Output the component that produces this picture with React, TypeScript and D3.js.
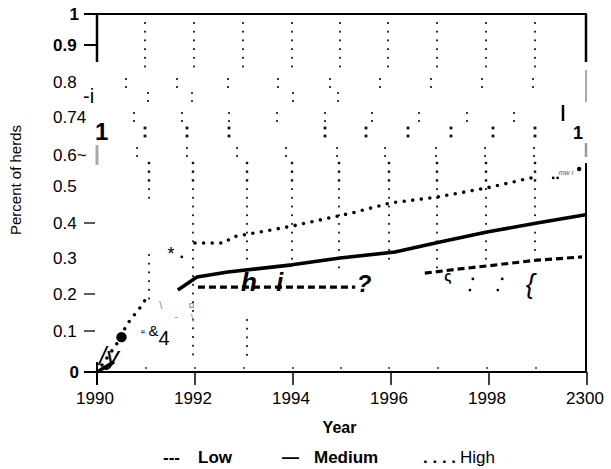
import React from 'react';
import * as d3 from 'd3';

const W = 611;
const H = 469;
const FONT = 'Liberation Sans, Arial, Helvetica, sans-serif';

// ---------- data ----------
const xTickValues = [1990, 1992, 1994, 1996, 1998, 2000];
const xTickLabels = ['1990', '1992', '1994', '1996', '1998', '2300'];

const yTickValues = [0, 0.1, 0.2, 0.3, 0.4, 0.5, 0.6, 0.7, 0.8, 0.9, 1];
const yTickLabels = ['0', '0.1', '0.2', '0.3', '0.4', '0.5', '0.6~', '0.74', '0.8', '0.9', '1'];
const yBoldTicks = [0, 0.9, 1];
const yDashTicks = [0, 0.1, 0.2, 0.4, 0.9, 1];

const legendLabels = ['Low', 'Medium', 'High'];

const lowYears = [1992.06, 1995.27, NaN, 1996.69, 1997.3, 1997.96, 1998.98, 1999.9];
const lowValues = [0.219, 0.219, NaN, 0.258, 0.268, 0.278, 0.294, 0.303];

const mediumYears = [1990, 1990.35, NaN, 1991.65, 1992.04, 1992.67, 1993.98, 1994.96, 1996.08, 1997.0, 1997.96, 1998.98, 2000];
const mediumValues = [0, 0.025, NaN, 0.211, 0.247, 0.261, 0.281, 0.3, 0.317, 0.346, 0.374, 0.4, 0.423];

const highYears = [1990, 1990.5, 1990.59, 1990.71, 1990.92, 1991.02, NaN, 1992.0, 1992.6, 1992.76, 1993.94, 1995.2, 1995.98, 1996.94, 1997.96, 1998.94];
const highValues = [0, 0.085, 0.114, 0.135, 0.17, 0.192, NaN, 0.343, 0.343, 0.36, 0.39, 0.427, 0.454, 0.47, 0.495, 0.529];

// stray scanned marks inside the plot (year, value, glyph)
const noteYears = [1990.245, 1991.51, 1993.1, 1993.73, 1995.45, 1998.84, 1997.16, 1999.57];
const noteValues = [0.039, 0.311, 0.233, 0.233, 0.228, 0.228, 0.25, 0.545];
const noteTexts = ['/y', '*', 'h', 'i', '?', '{', '\u03c2', 'mw i'];

const ampYear = 1990.9;
const ampValue = 0.095;

const dotYears = [1990.5, 1991.73, 1997.67, 1997.61, 1998.27, 1998.18, 1999.84, 1999.31, 1999.4];
const dotValues = [0.085, 0.303, 0.242, 0.211, 0.242, 0.211, 0.555, 0.526, 0.526];

const grayYears = [1991.3, 1991.62, 1991.95, 1991.93];
const grayValues = [0.17, 0.14, 0.135, 0.17];
const grayTexts = ['\\', '-', '\\', '\u00a4'];

// dotted year grid lines
const gridYears = [1991, 1992, 1993, 1994, 1995, 1996, 1997, 1998, 1999];

export default function App() {
  const x = d3.scaleLinear().domain([1990, 2000]).range([97, 587]);
  const y = d3.scaleLinear().domain(yTickValues).range([372, 331, 294, 258, 223, 186, 155, 117, 82, 45, 14]);

  const line = d3
    .line<[number, number]>()
    .defined((d) => !isNaN(d[0]) && !isNaN(d[1]))
    .x((d) => x(d[0]))
    .y((d) => y(d[1]));
  const pts = (a: number[], b: number[]) => a.map((v, i) => [v, b[i]] as [number, number]);

  // grid noise styling
  const topDx = [-1, -1, -1, -1, -2, -3, -3, -3, -3];
  const bandRows: { ys: number[]; dx: (number | null)[]; s: number }[] = [
    { ys: [79, 87], dx: [-19, -17, -15, -14, -10, -8, -6, -4, -2], s: 1.8 },
    { ys: [93, 101], dx: [3, -2, null, 1, -2, null, null, null, null], s: 1.8 },
    { ys: [113, 121], dx: [-11, -12, -14, -15, -15, -16, -18, -19, -21], s: 1.8 },
    { ys: [128, 136], dx: [0, -7, -14, null, -15, -22, -29, -35, -42], s: 2.8 },
    { ys: [128, 136], dx: [null, null, null, null, null, null, null, null, 0], s: 2.8 },
    { ys: [148, 156], dx: [-8, -7, -6, -6, -3, -3, -1, -1, -1], s: 1.8 },
  ];
  const lowerDx = [4, -1, 4, 0, -1, 1, 0, 0, 0];
  const lowerRanges = [
    [[163, 205], [255, 300]],
    [[163, 357]],
    [[163, 267], [320, 362]],
    [[163, 262]],
    [[163, 268]],
    [[163, 265]],
    [[163, 275]],
    [[163, 260]],
    [[163, 258]],
  ];
  const gridDots: { cx: number; cy: number; s: number }[] = [];
  gridYears.forEach((yr, i) => {
    const bx = x(yr) + topDx[i];
    d3.range(23, 67, 8.7).forEach((cy) => gridDots.push({ cx: bx, cy, s: 1.8 }));
    bandRows.forEach((b) => {
      const d = b.dx[i];
      if (d === null) return;
      b.ys.forEach((cy) => gridDots.push({ cx: bx + d, cy, s: b.s }));
    });
    lowerRanges[i].forEach(([a, z]) => {
      d3.range(a, z, 8.7).forEach((cy) => gridDots.push({ cx: bx + lowerDx[i], cy, s: cy < 182 ? 2.4 : 1.8 }));
    });
    gridDots.push({ cx: bx + 1, cy: 368, s: 1.6 });
  });

  const noteStyle: Record<string, any> = {
    '/y': { size: 26, style: 'italic', weight: 400 },
    '*': { size: 18, style: 'normal', weight: 400 },
    h: { size: 26, style: 'italic', weight: 700 },
    i: { size: 25, style: 'italic', weight: 700 },
    '?': { size: 24, style: 'italic', weight: 700 },
    '{': { size: 27, style: 'italic', weight: 400 },
    '\u03c2': { size: 14, style: 'normal', weight: 700 },
    'mw i': { size: 7, style: 'italic', weight: 400 },
  };

  return (
    <svg width={W} height={H} style={{ position: 'absolute', left: 0, top: 0, background: '#fff' }} fontFamily={FONT}>
      <rect x={0} y={0} width={W} height={H} fill="#fff" />

      {/* grid noise */}
      <g fill="#111">
        {gridDots.map((d, i) => (
          <rect key={i} x={d.cx - d.s / 2} y={d.cy - d.s / 2} width={d.s} height={d.s} />
        ))}
      </g>

      {/* frame */}
      <g stroke="#000" fill="none">
        <line x1={x(1990)} x2={x(2000)} y1={y(1)} y2={y(1)} strokeWidth={2.2} />
        <line x1={x(1990)} x2={x(2000)} y1={y(0)} y2={y(0)} strokeWidth={2} />
        <line x1={x(1990)} x2={x(1990)} y1={y(1)} y2={62} strokeWidth={2.5} />
        <line x1={x(1990)} x2={x(1990)} y1={145} y2={165} strokeWidth={3} stroke="#aaa" />
        <line x1={x(2000) - 1} x2={x(2000) - 1} y1={y(1)} y2={62} strokeWidth={2.5} />
        <line x1={x(2000) - 1} x2={x(2000) - 1} y1={70} y2={102} strokeWidth={2} stroke="#aaa" />
        <line x1={x(2000) - 1} x2={x(2000) - 1} y1={143} y2={157} strokeWidth={2.5} stroke="#999" />
        <line x1={x(2000) - 1} x2={x(2000) - 1} y1={163} y2={y(0)} strokeWidth={2} />
        <line x1={563} x2={563} y1={105} y2={121} strokeWidth={2.5} />
      </g>

      {/* x ticks */}
      {xTickValues.map((v, i) => (
        <g key={v}>
          <line x1={x(v)} x2={x(v)} y1={i === 0 ? y(0) - 10 : y(0)} y2={y(0) + 13} stroke="#000" strokeWidth={i === 0 ? 2 : 1.5} />
          <text x={x(v) - 2} y={404} textAnchor="middle" fontSize={17}>
            {xTickLabels[i]}
          </text>
        </g>
      ))}

      {/* y ticks */}
      {yTickValues.map((v, i) => {
        const bold = yBoldTicks.includes(v);
        const lab = yTickLabels[i];
        const single = lab.length === 1;
        return (
          <g key={v}>
            {yDashTicks.includes(v) && (
              <line x1={84} x2={bold ? 97 : 95} y1={y(v)} y2={y(v)} stroke="#000" strokeWidth={bold ? 2 : 1.3} />
            )}
            <text
              x={single ? 79 : 53}
              y={y(v)}
              dy="0.36em"
              textAnchor={single ? 'end' : 'start'}
              fontSize={17}
              fontWeight={bold ? 700 : 400}
            >
              {lab}
            </text>
          </g>
        );
      })}
      <text x={83} y={103} fontSize={20}>-i</text>
      <text x={95} y={140} fontSize={24} fontWeight={700}>1</text>
      <text x={573} y={139} fontSize={18} fontWeight={700}>1</text>

      {/* series */}
      <path d={line(pts(lowYears, lowValues)) || ''} fill="none" stroke="#000" strokeWidth={3.2} strokeDasharray="7 4" />
      <path d={line(pts(mediumYears, mediumValues)) || ''} fill="none" stroke="#000" strokeWidth={3.6} strokeLinejoin="round" />
      <path
        d={line(pts(highYears, highValues)) || ''}
        fill="none"
        stroke="#000"
        strokeWidth={3.6}
        strokeDasharray="0 8.6"
        strokeLinecap="round"
      />

      {/* stray marks */}
      {dotYears.map((v, i) => (
        <circle key={i} cx={x(v)} cy={y(dotValues[i])} r={i === 0 ? 5.2 : i === 6 ? 2.2 : 1.4} fill="#000" />
      ))}
      {noteTexts.map((t, i) => {
        const st = noteStyle[t];
        return (
          <text
            key={i}
            x={x(noteYears[i])}
            y={y(noteValues[i])}
            dy="0.35em"
            textAnchor="middle"
            fontSize={st.size}
            fontStyle={st.style}
            fontWeight={st.weight}
            fill={t === 'mw i' ? '#555' : '#000'}
          >
            {t}
          </text>
        );
      })}
      <text x={x(ampYear)} y={y(ampValue)} textAnchor="start" dy="0.35em" fill="#000">
        <tspan fontSize={12}>{'\u201c '}</tspan>
        <tspan fontSize={15} dy="-0.2em">&amp;</tspan>
        <tspan fontSize={20} dy="0.45em">4</tspan>
      </text>
      {grayTexts.map((t, i) => (
        <text key={i} x={x(grayYears[i])} y={y(grayValues[i])} dy="0.35em" textAnchor="middle" fontSize={11} fill="#888">
          {t}
        </text>
      ))}

      {/* axis titles */}
      <text transform="translate(21,180) rotate(-90)" textAnchor="middle" fontSize={15}>
        Percent of herds
      </text>
      <text x={339.5} y={433} textAnchor="middle" fontSize={16} fontWeight={700}>
        Year
      </text>

      {/* legend */}
      <text x={163} y={463} fontSize={17} fontWeight={700}>---</text>
      <text x={198} y={463} fontSize={17} fontWeight={700}>{legendLabels[0]}</text>
      <text x={282} y={463} fontSize={17} fontWeight={700}>{'\u2014'}</text>
      <text x={314} y={463} fontSize={17} fontWeight={700}>{legendLabels[1]}</text>
      <text x={423} y={463} fontSize={17} fontWeight={700}>{'. . . .'}</text>
      <text x={460} y={463} fontSize={17}>{legendLabels[2]}</text>
    </svg>
  );
}
